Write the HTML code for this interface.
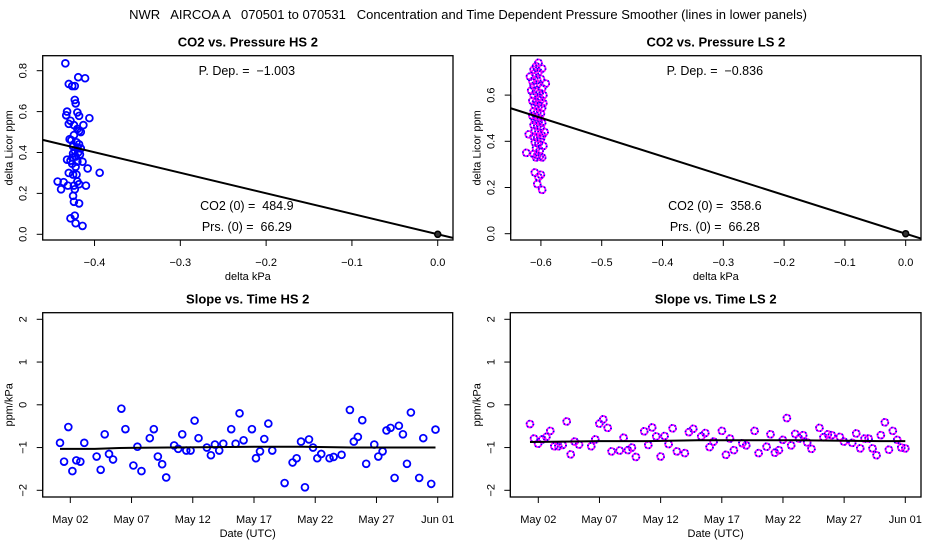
<!DOCTYPE html>
<html><head><meta charset="utf-8"><style>
body{margin:0;background:#fff}
svg{display:block;font-family:"Liberation Sans",sans-serif}
svg text{white-space:pre}
</style></head><body>
<svg id="chart" width="936" height="540" viewBox="0 0 936 540" xml:space="preserve">
<text x="468" y="19" font-size="13" text-anchor="middle">NWR   AIRCOA A   070501 to 070531   Concentration and Time Dependent Pressure Smoother (lines in lower panels)</text>
</svg>
<script>
// ---- Top-left: CO2 vs Pressure HS 2
const hsPressX=[-0.434,-0.419,-0.411,-0.430,-0.426,-0.423,-0.423,-0.422,-0.432,-0.420,-0.433,-0.418,-0.406,-0.428,-0.430,-0.424,-0.413,-0.420,-0.418,-0.416,-0.424,-0.429,-0.427,-0.421,-0.418,-0.425,-0.420,-0.416,-0.423,-0.419,-0.425,-0.417,-0.422,-0.426,-0.432,-0.428,-0.420,-0.414,-0.426,-0.422,-0.408,-0.430,-0.425,-0.421,-0.394,-0.443,-0.436,-0.420,-0.418,-0.431,-0.424,-0.410,-0.439,-0.423,-0.425,-0.424,-0.418,-0.423,-0.428,-0.422,-0.414];
const hsPressY=[0.836,0.768,0.763,0.735,0.725,0.725,0.657,0.640,0.600,0.596,0.582,0.579,0.568,0.555,0.540,0.534,0.534,0.515,0.505,0.500,0.485,0.465,0.460,0.450,0.440,0.430,0.425,0.420,0.410,0.400,0.395,0.390,0.380,0.375,0.365,0.360,0.355,0.355,0.345,0.330,0.322,0.300,0.292,0.292,0.301,0.258,0.255,0.258,0.245,0.238,0.238,0.238,0.220,0.220,0.188,0.159,0.151,0.091,0.078,0.054,0.041];
const hsSlope=-1.003;
// ---- Top-right: CO2 vs Pressure LS 2
const lsPressX=[-0.604,-0.608,-0.612,-0.618,-0.610,-0.604,-0.598,-0.614,-0.606,-0.600,-0.612,-0.606,-0.598,-0.592,-0.616,-0.608,-0.602,-0.612,-0.604,-0.596,-0.614,-0.608,-0.600,-0.610,-0.604,-0.598,-0.612,-0.606,-0.600,-0.614,-0.608,-0.602,-0.596,-0.610,-0.604,-0.598,-0.620,-0.612,-0.606,-0.600,-0.594,-0.610,-0.604,-0.598,-0.612,-0.606,-0.600,-0.624,-0.610,-0.604,-0.596,-0.608,-0.602,-0.612,-0.606,-0.598,-0.608,-0.602,-0.610,-0.600,-0.604,-0.606,-0.598];
const lsPressY=[0.740,0.725,0.710,0.680,0.695,0.700,0.715,0.660,0.665,0.670,0.640,0.645,0.630,0.650,0.620,0.615,0.610,0.600,0.590,0.600,0.575,0.570,0.580,0.555,0.550,0.545,0.530,0.525,0.520,0.510,0.505,0.500,0.565,0.490,0.485,0.480,0.430,0.470,0.465,0.460,0.440,0.445,0.440,0.425,0.420,0.415,0.410,0.350,0.395,0.390,0.380,0.370,0.360,0.345,0.340,0.330,0.330,0.335,0.265,0.255,0.245,0.215,0.190];
const lsSlope=-0.836;
// ---- Bottom-left: Slope vs Time HS 2 (days since May 1 00:00 UTC)
const hsDays=[0.16,0.49,0.84,1.17,1.49,1.82,2.14,3.15,3.48,3.81,4.16,4.49,5.17,5.50,6.15,6.48,6.81,7.49,7.82,8.15,8.50,8.83,9.48,9.81,10.14,10.47,10.82,11.15,11.47,12.15,12.48,12.81,13.16,13.49,14.14,14.50,14.82,15.15,15.83,16.16,16.49,16.84,17.17,17.49,18.50,19.15,19.48,19.84,20.16,20.49,20.82,21.17,21.49,22.17,22.50,23.15,23.83,24.15,24.48,24.84,25.16,25.82,26.15,26.50,26.82,27.15,27.48,27.83,28.16,28.49,28.81,29.49,29.82,30.47,30.82];
const hsSlopes=[-0.89,-1.33,-0.52,-1.55,-1.30,-1.33,-0.89,-1.21,-1.52,-0.69,-1.15,-1.28,-0.09,-0.57,-1.42,-0.98,-1.55,-0.78,-0.57,-1.21,-1.39,-1.70,-0.95,-1.03,-0.69,-1.07,-1.07,-0.37,-0.78,-1.00,-1.18,-0.93,-1.07,-0.91,-0.57,-0.91,-0.20,-0.83,-0.57,-1.25,-1.09,-0.80,-0.44,-1.07,-1.83,-1.35,-1.25,-0.86,-1.93,-0.81,-1.00,-1.25,-1.15,-1.25,-1.22,-1.17,-0.12,-0.86,-0.75,-0.36,-1.38,-0.93,-1.21,-1.09,-0.60,-0.54,-1.71,-0.49,-0.69,-1.38,-0.18,-1.71,-0.78,-1.85,-0.58];
const hsSmoothDays=[0.16,3,5,9,13,16,20,24,28,30.82];
const hsSmoothVals=[-1.03,-1.03,-1.01,-1.00,-0.99,-0.98,-0.98,-1.00,-1.00,-1.00];
// ---- Bottom-right: Slope vs Time LS 2
const lsDays=[0.32,0.65,0.98,1.33,1.66,1.98,2.31,2.64,2.99,3.32,3.65,3.97,4.33,5.33,5.66,5.99,6.31,6.67,6.99,7.65,7.97,8.33,8.65,8.98,9.66,9.99,10.31,10.64,11.00,11.32,11.65,11.98,12.33,12.98,13.31,13.67,14.32,14.65,15.00,15.33,16.01,16.34,16.67,16.99,17.68,18.00,18.68,19.01,19.66,19.98,20.34,20.67,20.99,21.32,21.67,22.00,22.32,22.65,22.98,23.33,23.98,24.31,24.67,24.99,25.65,25.98,26.66,26.99,27.32,27.67,28.00,28.32,28.65,29.00,29.33,29.66,29.98,30.34,30.67,31.00];
const lsSlopes=[-0.45,-0.79,-0.91,-0.81,-0.75,-0.61,-0.97,-0.97,-0.94,-0.39,-1.16,-0.86,-0.93,-0.97,-0.81,-0.44,-0.34,-0.54,-1.09,-1.07,-0.77,-1.06,-1.00,-1.22,-0.62,-0.94,-0.53,-0.74,-1.21,-0.73,-0.92,-0.55,-1.09,-1.13,-0.64,-0.56,-0.74,-0.66,-0.99,-0.86,-0.61,-1.17,-0.79,-1.06,-0.90,-0.95,-0.61,-1.13,-0.98,-0.69,-1.12,-1.06,-0.82,-0.31,-0.95,-0.68,-0.79,-0.71,-0.88,-1.03,-0.54,-0.76,-0.69,-0.71,-0.75,-0.86,-0.89,-0.67,-1.02,-0.79,-0.79,-1.02,-1.18,-0.71,-0.41,-1.05,-0.61,-0.82,-1.00,-1.02];
const lsSmoothDays=[0.32,3,6,10,14,18,22,26,29,31.0];
const lsSmoothVals=[-0.87,-0.86,-0.85,-0.85,-0.83,-0.83,-0.83,-0.84,-0.85,-0.85];
const pressTicksHS=[-0.4,-0.3,-0.2,-0.1,0.0];
const pressTicksLS=[-0.6,-0.5,-0.4,-0.3,-0.2,-0.1,0.0];
const co2TicksHS=[0.0,0.2,0.4,0.6,0.8];
const co2TicksLS=[0.0,0.2,0.4,0.6];
const slopeTicks=[-2,-1,0,1,2];
const dateTicks=[1,6,11,16,21,26,31];
const dateLabels=["May 02","May 07","May 12","May 17","May 22","May 27","Jun 01"];

const NS="http://www.w3.org/2000/svg";
const svg=document.getElementById('chart');
function mk(tag,attrs,parent){const e=document.createElementNS(NS,tag);for(const k in attrs)e.setAttribute(k,attrs[k]);(parent||svg).appendChild(e);return e;}
function lin(d0,d1,r0,r1){return v=>r0+(v-d0)*(r1-r0)/(d1-d0);}

function drawPanel(p){
  const g=mk('g',{});
  
  
  const t=mk('text',{x:(p.L+p.R)/2,y:p.T-9,'font-size':13,'font-weight':'bold','text-anchor':'middle'},g);
  t.textContent=p.title;
  
  
  const box=mk('rect',{x:p.L,y:p.T,width:p.R-p.L,height:p.B-p.T,fill:'none',stroke:'#000','stroke-width':1.3},g);
  
  
  const xa=mk('g',{},g);
  
  
  mk('line',{x1:p.sx(p.xt[0]),x2:p.sx(p.xt[p.xt.length-1]),y1:p.B,y2:p.B,stroke:'#000'},xa);
  p.xt.forEach((v,i)=>{
    const X=p.sx(v);
    mk('line',{x1:X,x2:X,y1:p.B,y2:p.B+6,stroke:'#000'},xa);
    const tl=mk('text',{x:X,y:p.B+26,'font-size':11,'text-anchor':'middle'},xa);
    tl.textContent=p.xl?p.xl[i]:(v===0?'0.0':'\u2212'+Math.abs(v).toFixed(1));
    
    
  });
  const xt=mk('text',{x:(p.L+p.R)/2,y:p.B+40,'font-size':11,'text-anchor':'middle'},g);
  xt.textContent=p.xtitle;
  
  
  const ya=mk('g',{},g);
  
  
  mk('line',{x1:p.L,x2:p.L,y1:p.sy(p.yt[0]),y2:p.sy(p.yt[p.yt.length-1]),stroke:'#000'},ya);
  p.yt.forEach(v=>{
    const Y=p.sy(v);
    mk('line',{x1:p.L-6,x2:p.L,y1:Y,y2:Y,stroke:'#000'},ya);
    const tl=mk('text',{x:0,y:0,'font-size':11,'text-anchor':'middle',transform:`translate(${p.L-16},${Y}) rotate(-90)`},ya);
    tl.textContent=p.yfmt(v);
    
    
  });
  const yt=mk('text',{x:0,y:0,'font-size':11,'text-anchor':'middle',transform:`translate(${p.L-30},${(p.T+p.B)/2}) rotate(-90)`},g);
  yt.textContent=p.ytitle;
  
  
  return g;
}
function point(g,X,Y,ls){
  const c=mk('circle',{cx:X,cy:Y,r:3.4,fill:'none',stroke:ls?'#ff00ff':'#0000ff','stroke-width':1.8},g);
  
  
  if(ls){const c2=mk('circle',{cx:X,cy:Y,r:3.4,fill:'none',stroke:'#0000ff','stroke-width':1.8,'stroke-dasharray':'1.2 2.4'},g);
    
    }
}
function label(g,x,y,s,name){const t=mk('text',{x:x,y:y,'font-size':12.5,'text-anchor':'middle'},g);t.textContent=s;
  
  }

function pressPanel(o){
  const p={L:o.L,R:o.R,T:55.7,B:240,title:o.title,xtitle:'delta kPa',ytitle:'delta Licor ppm',xt:o.xt,yt:o.yt,name:o.name,
    sx:lin(o.x0,o.x1,o.L,o.R),sy:lin(o.y0,o.y1,240,55.7),yfmt:v=>v.toFixed(1)};
  const g=drawPanel(p);
  const pts=mk('g',{'clip-path':'url(#'+o.clip+')'},g);
  
  
  o.xs.forEach((x,i)=>point(pts,p.sx(x),p.sy(o.ys[i]),o.ls));
  const ln=mk('line',{x1:p.sx(o.x0),y1:p.sy(o.slope*o.x0),x2:p.sx(o.x1),y2:p.sy(o.slope*o.x1),stroke:'#000','stroke-width':2},pts);
  
  
  const og=mk('circle',{cx:p.sx(0),cy:p.sy(0),r:3,fill:'#333',stroke:'#000','stroke-width':1.5},g);
  
  
  const cx=(o.L+o.R)/2-1;
  label(g,cx,75,'P. Dep. =  \u2212'+Math.abs(o.slope).toFixed(3),'pressure-dependence-label');
  label(g,cx,210,'CO2 (0) =  '+o.co2,'co2-zero-label');
  label(g,cx,231,'Prs. (0) =  '+o.prs,'pressure-zero-label');
}
function timePanel(o){
  const p={L:o.L,R:o.R,T:312.7,B:497,title:o.title,xtitle:'Date (UTC)',ytitle:'ppm/kPa',xt:dateTicks,xl:dateLabels,yt:slopeTicks,name:o.name,
    sx:lin(1,31,o.d1,o.d31),sy:lin(-2,2,490.3,319.3),yfmt:v=>v<0?'\u2212'+Math.abs(v):String(v)};
  const g=drawPanel(p);
  const pts=mk('g',{},g);
  
  
  o.days.forEach((d,i)=>point(pts,p.sx(d),p.sy(o.vals[i]),o.ls));
  const pl=mk('polyline',{points:o.sd.map((d,i)=>p.sx(d)+','+p.sy(o.sv[i])).join(' '),fill:'none',stroke:'#000','stroke-width':2},g);
  
  
}
const defs=mk('defs',{});
const c1=mk('clipPath',{id:'clipA'},defs);mk('rect',{x:42.7,y:55.7,width:410.3,height:184.3},c1);
const c2=mk('clipPath',{id:'clipB'},defs);mk('rect',{x:510.7,y:55.7,width:410.3,height:184.3},c2);
pressPanel({name:'panel-co2-pressure-hs',title:'CO2 vs. Pressure HS 2',L:42.7,R:453,x0:-0.4604,x1:0.0178,y0:-0.0279,y1:0.8733,
  xt:pressTicksHS,yt:co2TicksHS,xs:hsPressX,ys:hsPressY,slope:hsSlope,co2:'484.9',prs:'66.29',clip:'clipA',ls:false});
pressPanel({name:'panel-co2-pressure-ls',title:'CO2 vs. Pressure LS 2',L:510.7,R:921,x0:-0.6497,x1:0.0252,y0:-0.0273,y1:0.7706,
  xt:pressTicksLS,yt:co2TicksLS,xs:lsPressX,ys:lsPressY,slope:lsSlope,co2:'358.6',prs:'66.28',clip:'clipB',ls:true});
timePanel({name:'panel-slope-time-hs',title:'Slope vs. Time HS 2',L:42.7,R:452.7,d1:70.3,d31:437.7,days:hsDays,vals:hsSlopes,sd:hsSmoothDays,sv:hsSmoothVals,ls:false});
timePanel({name:'panel-slope-time-ls',title:'Slope vs. Time LS 2',L:510.3,R:921,d1:538.3,d31:905.3,days:lsDays,vals:lsSlopes,sd:lsSmoothDays,sv:lsSmoothVals,ls:true});
</script>
</body></html>
